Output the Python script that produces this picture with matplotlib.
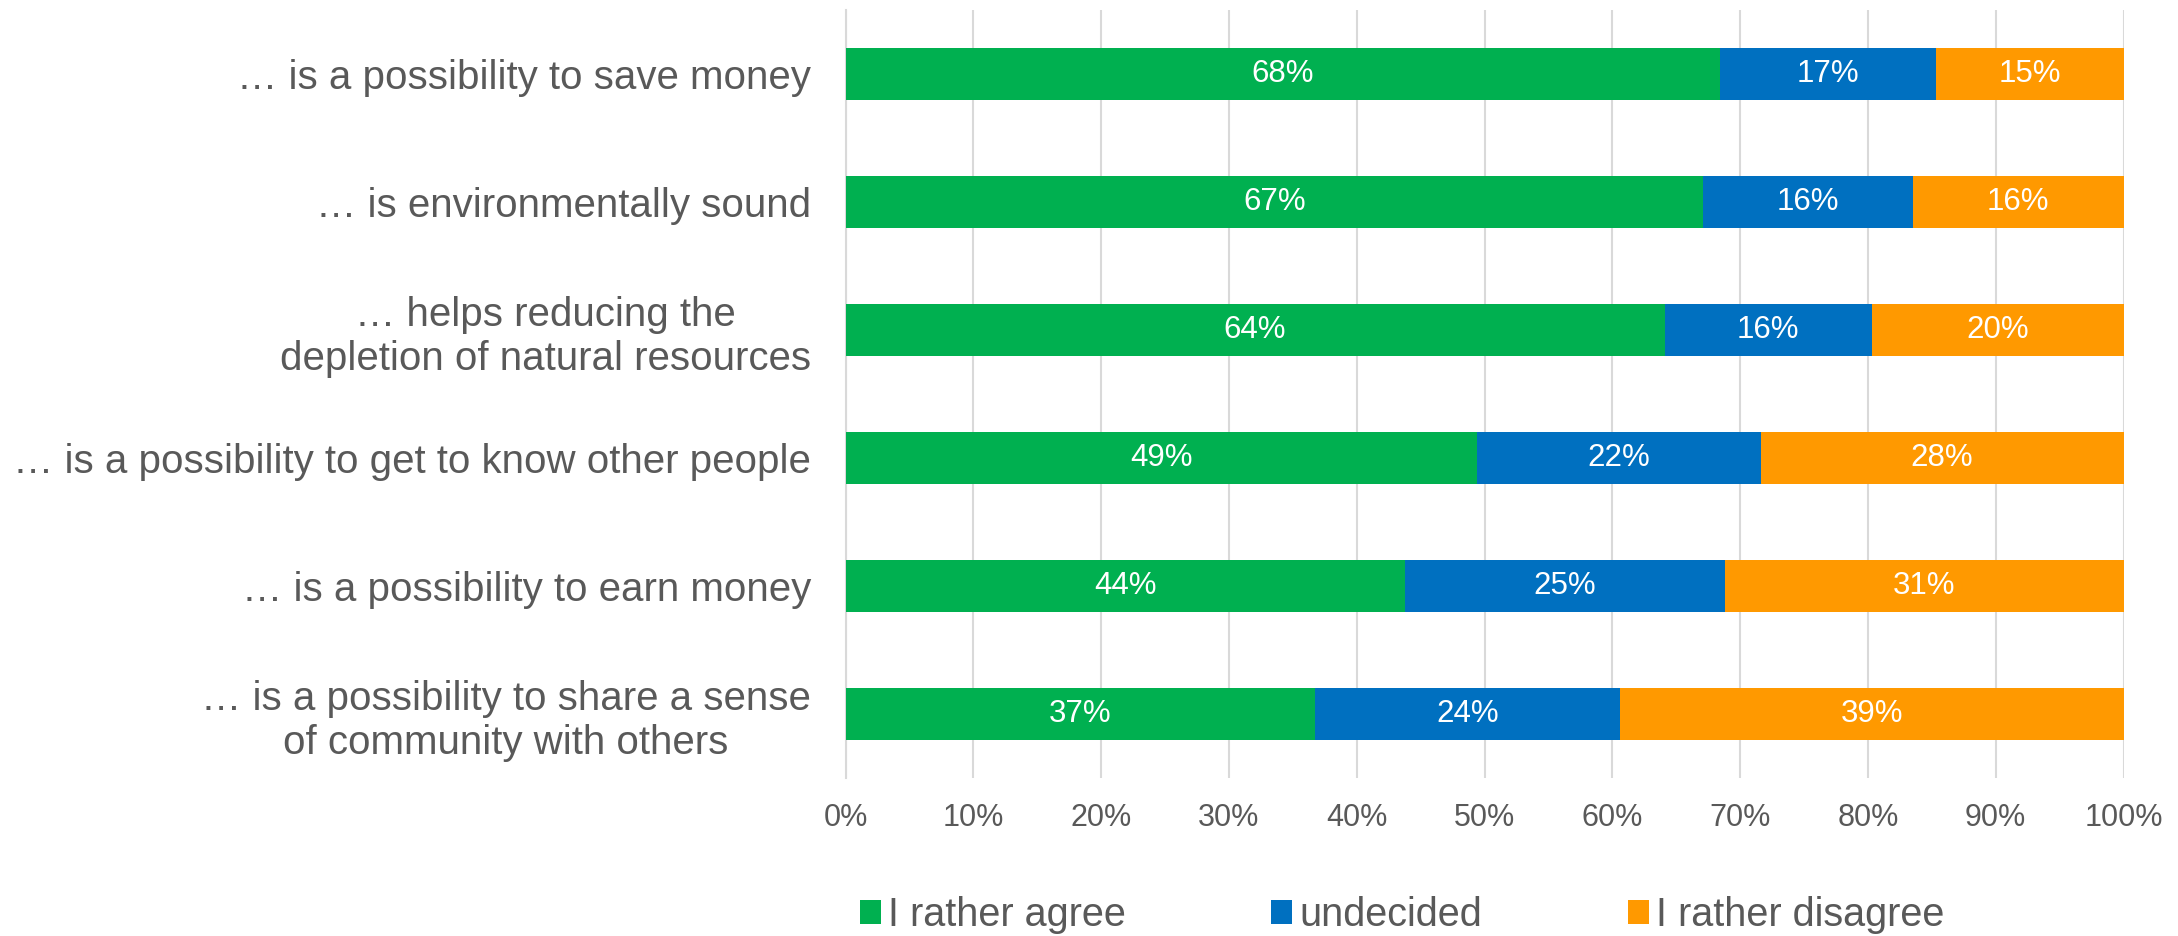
import matplotlib
matplotlib.use("Agg")
import matplotlib.pyplot as plt
from matplotlib.patches import Patch
from matplotlib.ticker import FuncFormatter, MultipleLocator

categories = [
    "… is a possibility to save money",
    "… is environmentally sound",
    "… helps reducing the\ndepletion of natural resources",
    "… is a possibility to get to know other people",
    "… is a possibility to earn money",
    "… is a possibility to share a sense\nof community with others",
]
agree = [68.4, 67.1, 64.1, 49.4, 43.8, 36.7]
undecided = [16.9, 16.4, 16.2, 22.2, 25.0, 23.9]
disagree = [14.7, 16.5, 19.7, 28.4, 31.2, 39.4]

series_names = ["I rather agree", "undecided", "I rather disagree"]
series_values = [agree, undecided, disagree]
colors = ["#00B050", "#0070C0", "#FF9900"]

text_color = "#595959"
grid_color = "#D9D9D9"
plt.rcParams["font.family"] = ["Liberation Sans", "DejaVu Sans"]

W, H = 2178, 936
fig = plt.figure(figsize=(W / 100, H / 100), dpi=100)
ax = fig.add_axes([845.5 / W, 1 - 778 / H, (2123.5 - 845.5) / W, 768 / H])

y = list(range(len(categories)))
left = [0.0] * len(categories)
for name, vals, col in zip(series_names, series_values, colors):
    bars = ax.barh(y, vals, left=left, height=0.4, color=col, label=name, zorder=3)
    for rect, v in zip(bars, vals):
        ax.text(rect.get_x() + rect.get_width() / 2, rect.get_y() + rect.get_height() / 2,
                f"{v:.0f}%", ha="center", va="center", color="white", fontsize=22.5, zorder=4)
    left = [l + v for l, v in zip(left, vals)]

ax.set_xlim(0, 100)
ax.set_ylim(len(categories) - 0.5, -0.5)
ax.set_yticks(y)
ax.set_yticklabels(categories, fontsize=29, color=text_color, multialignment="center")
ax.xaxis.set_major_locator(MultipleLocator(10))
ax.xaxis.set_major_formatter(FuncFormatter(lambda v, p: f"{v:.0f}%"))
ax.tick_params(axis="x", length=0, pad=18, labelsize=22, labelcolor=text_color)
ax.tick_params(axis="y", length=0, pad=25)
ax.grid(axis="x", color=grid_color, linewidth=1.5, zorder=0)
for side in ["top", "right", "bottom"]:
    ax.spines[side].set_visible(False)
ax.spines["left"].set_color(grid_color)
ax.spines["left"].set_linewidth(1.5)
ax.spines["left"].set_zorder(1)

handles = [Patch(facecolor=c, edgecolor="none") for c in colors]
fs = 28.5
fs_px = fs * 100 / 72
fig.legend(handles, series_names, loc="center", bbox_to_anchor=(1402 / W, 1 - 915 / H),
           ncol=3, frameon=False, fontsize=fs, labelcolor=text_color,
           handlelength=21 / fs_px, handleheight=21 / fs_px,
           handletextpad=7 / fs_px, columnspacing=146 / fs_px,
           borderpad=0, borderaxespad=0)

fig.savefig("out.png", dpi=100, facecolor="white")
